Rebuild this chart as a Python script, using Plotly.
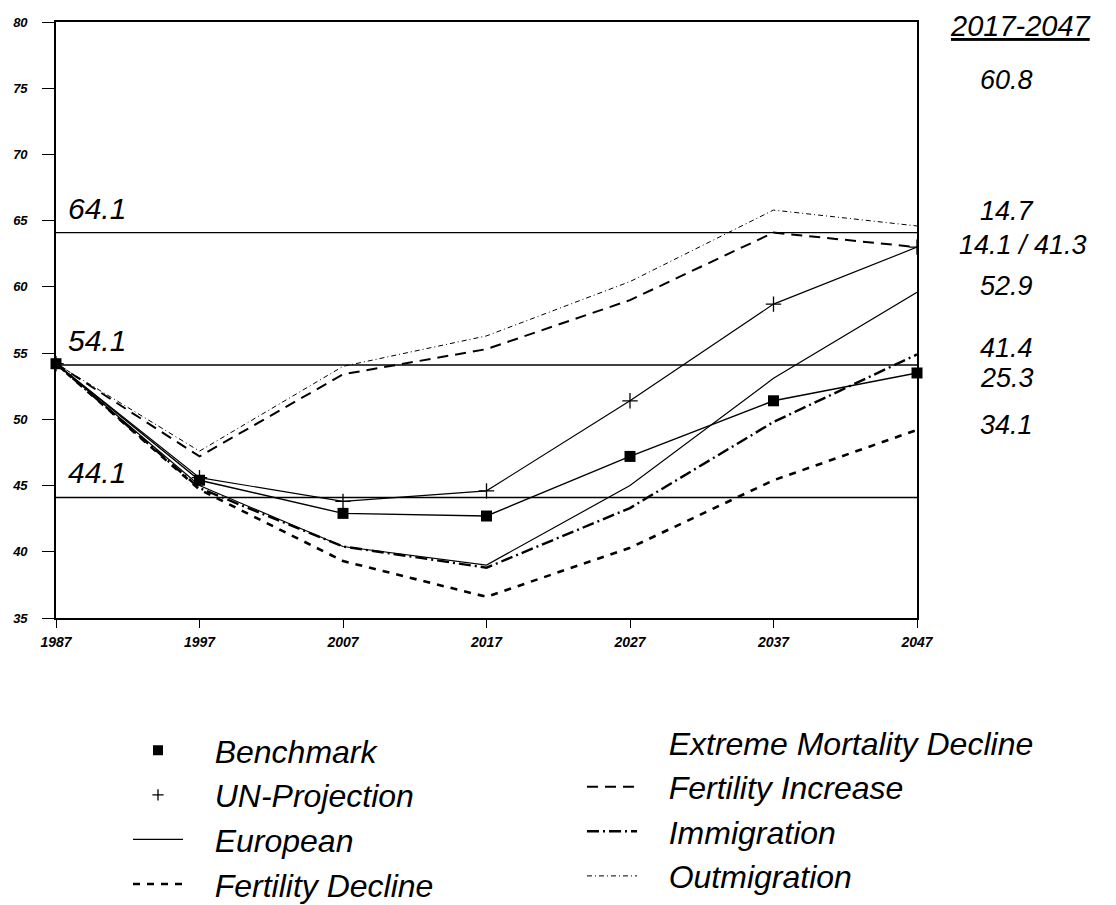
import plotly.graph_objects as go

years = [1987, 1997, 2007, 2017, 2027, 2037, 2047]

benchmark = [54.2, 45.4, 42.9, 42.7, 47.2, 51.4, 53.5]
un_projection = [54.2, 45.6, 43.8, 44.6, 51.4, 58.7, 63.0]
european = [54.2, 45.0, 40.4, 39.0, 45.0, 53.1, 59.6]
fertility_decline = [54.2, 44.7, 39.3, 36.6, 40.3, 45.4, 49.2]
fertility_increase = [54.2, 47.2, 53.4, 55.3, 59.0, 64.1, 63.0]
immigration = [54.2, 44.8, 40.4, 38.8, 43.3, 49.8, 54.9]
outmigration = [54.2, 47.6, 54.0, 56.3, 60.4, 65.8, 64.6]

ref_levels = [64.1, 54.1, 44.1]
ref_labels = ["64.1", "54.1", "44.1"]

side_labels = ["60.8", "14.7", "14.1 / 41.3", "52.9", "41.4", "25.3", "34.1"]
side_label_y = [75.6, 65.7, 63.2, 60.05, 55.35, 53.1, 49.6]
side_label_x = [1.071, 1.071, 1.047, 1.071, 1.071, 1.071, 1.071]

FONT = "Liberation Sans, Arial, sans-serif"
PAD = "\u00a0\u00a0\u00a0"

fig = go.Figure()

# reference levels across the whole plot
for lvl in ref_levels:
    fig.add_trace(go.Scatter(x=[years[0], years[-1]], y=[lvl, lvl], mode="lines",
                             line=dict(color="black", width=1.4), showlegend=False,
                             hoverinfo="skip"))

fig.add_trace(go.Scatter(x=years, y=fertility_increase, mode="lines", name=PAD + "Fertility Increase",
                         line=dict(color="black", width=2, dash="11px,7px"),
                         legend="legend2", legendrank=2))
fig.add_trace(go.Scatter(x=years, y=outmigration, mode="lines", name=PAD + "Outmigration",
                         line=dict(color="black", width=1, dash="5px,3px,1px,3px"),
                         legend="legend2", legendrank=4))
fig.add_trace(go.Scatter(x=years, y=fertility_decline, mode="lines", name=PAD + "Fertility Decline",
                         line=dict(color="black", width=2.6, dash="7px,7px"), legendrank=4))
fig.add_trace(go.Scatter(x=years, y=immigration, mode="lines", name=PAD + "Immigration",
                         line=dict(color="black", width=2.4, dash="12px,4px,2px,4px"),
                         legend="legend2", legendrank=3))
fig.add_trace(go.Scatter(x=years, y=european, mode="lines", name=PAD + "European",
                         line=dict(color="black", width=1.2), legendrank=3))
fig.add_trace(go.Scatter(x=years, y=un_projection, mode="lines+markers", showlegend=False,
                         line=dict(color="black", width=1.2),
                         marker=dict(symbol="cross-thin-open", size=11, color="black",
                                     line=dict(color="black", width=1.3))))
fig.add_trace(go.Scatter(x=years, y=benchmark, mode="lines+markers", showlegend=False,
                         line=dict(color="black", width=1.4),
                         marker=dict(symbol="square", size=11, color="black"),
                         cliponaxis=False))

# legend-only entries (marker samples without line, and the empty one)
fig.add_trace(go.Scatter(x=[None], y=[None], mode="markers", name=PAD + "Benchmark",
                         marker=dict(symbol="square", size=10, color="black"), legendrank=1))
fig.add_trace(go.Scatter(x=[None], y=[None], mode="markers", name=PAD + "UN-Projection",
                         marker=dict(symbol="cross-thin-open", size=8, color="black",
                                     line=dict(color="black", width=1.3)), legendrank=2))
fig.add_trace(go.Scatter(x=[None], y=[None], mode="lines", name=PAD + "Extreme Mortality Decline",
                         line=dict(color="rgba(0,0,0,0)", width=1), legend="legend2",
                         legendrank=1))

for lvl, txt in zip(ref_levels, ref_labels):
    fig.add_annotation(x=years[0], y=lvl, xref="x", yref="y", text=txt, showarrow=False,
                       xanchor="left", yanchor="bottom", xshift=10, yshift=6,
                       font=dict(family=FONT, size=30, style="italic", color="black"))

fig.add_annotation(x=1.036, y=0.993, xref="paper", yref="paper", text="<u>2017-2047</u>",
                   showarrow=False, xanchor="left", yanchor="middle",
                   font=dict(family=FONT, size=29, style="italic", color="black"))
for txt, yy, xx in zip(side_labels, side_label_y, side_label_x):
    fig.add_annotation(x=xx, y=yy, xref="paper", yref="y", text=txt, showarrow=False,
                       xanchor="left", yanchor="middle",
                       font=dict(family=FONT, size=27, style="italic", color="black"))

legend_font = dict(family=FONT, size=32, style="italic", color="black")
tick_font = dict(family=FONT, size=13, style="italic", weight="bold", color="black")

fig.update_layout(
    width=1116, height=905,
    margin=dict(l=48, r=207, t=14, b=295, autoexpand=False),
    paper_bgcolor="white", plot_bgcolor="white",
    xaxis=dict(range=[1987, 2047], tickvals=years, ticks="outside", ticklen=8,
               tickcolor="black", showline=True, linecolor="black", linewidth=1.6,
               mirror=True, showgrid=False, zeroline=False, tickangle=0,
               ticklabelstandoff=2, tickfont=dict(tick_font, size=14)),
    yaxis=dict(range=[35, 80], dtick=5, ticks="outside", ticklen=12, tickcolor="black",
               showline=True, linecolor="black", linewidth=1.6, mirror=True,
               showgrid=False, zeroline=False, ticklabelstandoff=12, tickfont=tick_font),
    legend=dict(xref="container", yref="container", x=120 / 1116, y=0.210,
                xanchor="left", yanchor="top", font=legend_font,
                itemwidth=50, bgcolor="rgba(0,0,0,0)", tracegroupgap=0),
    legend2=dict(xref="container", yref="container", x=574 / 1116, y=0.219,
                 xanchor="left", yanchor="top", font=legend_font,
                 itemwidth=50, bgcolor="rgba(0,0,0,0)", tracegroupgap=0),
)

fig.write_html("out.html")
